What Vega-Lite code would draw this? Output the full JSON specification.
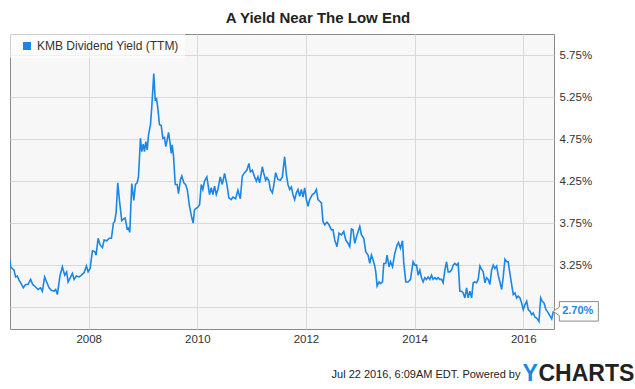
{
  "$schema": "https://vega.github.io/schema/vega-lite/v6.json",
  "autosize": {"type": "none"},
  "padding": {"left": 10, "top": 34, "right": 81, "bottom": 60},
  "width": 544,
  "height": 295,
  "background": "white",
  "title": {
    "text": "A Yield Near The Low End",
    "anchor": "middle",
    "frame": "group",
    "dx": 36,
    "offset": -4,
    "baseline": "alphabetic",
    "font": "Liberation Sans",
    "fontSize": 15,
    "fontWeight": "bold",
    "color": "#222222"
  },
  "config": {
    "view": {"fill": "#f7f7f7", "stroke": "#8a8a8a", "strokeWidth": 1},
    "font": "Liberation Sans"
  },
  "data": {
    "values": [
      {"year":2006.551,"yield":3.31},{"year":2006.562,"yield":3.23},{"year":2006.625,"yield":3.19},{"year":2006.654,"yield":3.11},
      {"year":2006.686,"yield":3.12},{"year":2006.717,"yield":3.07},{"year":2006.747,"yield":3.04},{"year":2006.796,"yield":2.98},
      {"year":2006.839,"yield":3.02},{"year":2006.883,"yield":3.02},{"year":2006.931,"yield":3.08},{"year":2006.968,"yield":3.02},
      {"year":2007.023,"yield":2.99},{"year":2007.067,"yield":2.96},{"year":2007.115,"yield":2.98},{"year":2007.147,"yield":2.94},
      {"year":2007.189,"yield":3.11},{"year":2007.226,"yield":3.05},{"year":2007.270,"yield":2.98},{"year":2007.312,"yield":2.95},
      {"year":2007.362,"yield":2.94},{"year":2007.392,"yield":2.96},{"year":2007.423,"yield":2.90},{"year":2007.473,"yield":3.13},
      {"year":2007.515,"yield":3.23},{"year":2007.558,"yield":3.13},{"year":2007.594,"yield":3.17},{"year":2007.620,"yield":3.05},
      {"year":2007.668,"yield":3.11},{"year":2007.700,"yield":3.15},{"year":2007.731,"yield":3.08},{"year":2007.773,"yield":3.12},
      {"year":2007.823,"yield":3.11},{"year":2007.865,"yield":3.13},{"year":2007.915,"yield":3.16},{"year":2007.958,"yield":3.24},
      {"year":2007.989,"yield":3.17},{"year":2008.026,"yield":3.21},{"year":2008.068,"yield":3.42},{"year":2008.111,"yield":3.41},
      {"year":2008.136,"yield":3.37},{"year":2008.173,"yield":3.57},{"year":2008.210,"yield":3.49},{"year":2008.253,"yield":3.46},
      {"year":2008.284,"yield":3.55},{"year":2008.332,"yield":3.54},{"year":2008.376,"yield":3.57},{"year":2008.418,"yield":3.57},
      {"year":2008.455,"yield":3.75},{"year":2008.479,"yield":3.77},{"year":2008.505,"yield":3.88},{"year":2008.535,"yield":4.23},
      {"year":2008.566,"yield":4.02},{"year":2008.608,"yield":3.78},{"year":2008.645,"yield":3.80},{"year":2008.671,"yield":3.81},
      {"year":2008.708,"yield":3.68},{"year":2008.732,"yield":3.69},{"year":2008.756,"yield":3.64},{"year":2008.793,"yield":4.22},
      {"year":2008.830,"yield":4.02},{"year":2008.861,"yield":4.21},{"year":2008.892,"yield":4.23},{"year":2008.916,"yield":4.30},
      {"year":2008.953,"yield":4.76},{"year":2008.977,"yield":4.60},{"year":2009.003,"yield":4.69},{"year":2009.027,"yield":4.60},
      {"year":2009.051,"yield":4.72},{"year":2009.077,"yield":4.62},{"year":2009.100,"yield":4.79},{"year":2009.137,"yield":4.92},
      {"year":2009.161,"yield":5.13},{"year":2009.198,"yield":5.53},{"year":2009.224,"yield":5.22},{"year":2009.248,"yield":5.23},
      {"year":2009.272,"yield":5.12},{"year":2009.303,"yield":4.92},{"year":2009.335,"yield":4.91},{"year":2009.364,"yield":4.76},
      {"year":2009.395,"yield":4.77},{"year":2009.419,"yield":4.66},{"year":2009.445,"yield":4.74},{"year":2009.469,"yield":4.83},
      {"year":2009.493,"yield":4.73},{"year":2009.519,"yield":4.58},{"year":2009.537,"yield":4.68},{"year":2009.561,"yield":4.55},
      {"year":2009.593,"yield":4.21},{"year":2009.629,"yield":4.21},{"year":2009.653,"yield":4.10},{"year":2009.690,"yield":4.27},
      {"year":2009.714,"yield":4.31},{"year":2009.751,"yield":4.23},{"year":2009.782,"yield":4.21},{"year":2009.814,"yield":4.15},
      {"year":2009.856,"yield":3.95},{"year":2009.899,"yield":3.81},{"year":2009.924,"yield":3.75},{"year":2009.948,"yield":3.91},
      {"year":2010.009,"yield":3.94},{"year":2010.041,"yield":3.97},{"year":2010.072,"yield":4.21},{"year":2010.101,"yield":4.15},
      {"year":2010.133,"yield":4.25},{"year":2010.175,"yield":4.30},{"year":2010.225,"yield":4.09},{"year":2010.256,"yield":4.17},
      {"year":2010.286,"yield":4.09},{"year":2010.317,"yield":4.19},{"year":2010.348,"yield":4.09},{"year":2010.378,"yield":4.15},
      {"year":2010.422,"yield":4.30},{"year":2010.459,"yield":4.21},{"year":2010.501,"yield":4.34},{"year":2010.544,"yield":4.21},
      {"year":2010.581,"yield":4.05},{"year":2010.625,"yield":4.03},{"year":2010.654,"yield":4.06},{"year":2010.704,"yield":4.04},
      {"year":2010.747,"yield":4.14},{"year":2010.791,"yield":4.04},{"year":2010.828,"yield":4.31},{"year":2010.870,"yield":4.35},
      {"year":2010.912,"yield":4.38},{"year":2010.949,"yield":4.46},{"year":2010.975,"yield":4.36},{"year":2011.012,"yield":4.38},
      {"year":2011.054,"yield":4.30},{"year":2011.086,"yield":4.25},{"year":2011.115,"yield":4.30},{"year":2011.147,"yield":4.23},
      {"year":2011.196,"yield":4.42},{"year":2011.220,"yield":4.35},{"year":2011.257,"yield":4.26},{"year":2011.281,"yield":4.29},
      {"year":2011.318,"yield":4.25},{"year":2011.344,"yield":4.15},{"year":2011.381,"yield":4.11},{"year":2011.405,"yield":4.19},
      {"year":2011.441,"yield":4.35},{"year":2011.484,"yield":4.27},{"year":2011.528,"yield":4.26},{"year":2011.565,"yield":4.30},
      {"year":2011.607,"yield":4.54},{"year":2011.639,"yield":4.33},{"year":2011.668,"yield":4.21},{"year":2011.700,"yield":4.15},
      {"year":2011.731,"yield":4.18},{"year":2011.760,"yield":4.09},{"year":2011.792,"yield":4.03},{"year":2011.823,"yield":4.11},
      {"year":2011.853,"yield":4.15},{"year":2011.884,"yield":4.07},{"year":2011.915,"yield":4.15},{"year":2011.945,"yield":4.06},
      {"year":2011.976,"yield":4.17},{"year":2012.007,"yield":4.03},{"year":2012.037,"yield":3.95},{"year":2012.068,"yield":4.03},
      {"year":2012.118,"yield":4.09},{"year":2012.160,"yield":4.11},{"year":2012.192,"yield":4.15},{"year":2012.221,"yield":4.03},
      {"year":2012.253,"yield":4.01},{"year":2012.284,"yield":3.99},{"year":2012.313,"yield":3.77},{"year":2012.345,"yield":3.73},
      {"year":2012.387,"yield":3.76},{"year":2012.424,"yield":3.73},{"year":2012.468,"yield":3.67},{"year":2012.498,"yield":3.67},
      {"year":2012.529,"yield":3.55},{"year":2012.571,"yield":3.47},{"year":2012.608,"yield":3.63},{"year":2012.653,"yield":3.61},
      {"year":2012.695,"yield":3.65},{"year":2012.732,"yield":3.55},{"year":2012.774,"yield":3.51},{"year":2012.806,"yield":3.47},
      {"year":2012.837,"yield":3.68},{"year":2012.866,"yield":3.67},{"year":2012.898,"yield":3.51},{"year":2012.940,"yield":3.61},
      {"year":2012.990,"yield":3.71},{"year":2013.021,"yield":3.61},{"year":2013.064,"yield":3.57},{"year":2013.100,"yield":3.41},
      {"year":2013.143,"yield":3.37},{"year":2013.174,"yield":3.27},{"year":2013.205,"yield":3.37},{"year":2013.235,"yield":3.31},
      {"year":2013.266,"yield":3.24},{"year":2013.285,"yield":3.17},{"year":2013.309,"yield":3.00},{"year":2013.346,"yield":3.05},
      {"year":2013.371,"yield":3.03},{"year":2013.408,"yield":3.05},{"year":2013.432,"yield":3.27},{"year":2013.469,"yield":3.27},
      {"year":2013.493,"yield":3.37},{"year":2013.530,"yield":3.23},{"year":2013.556,"yield":3.29},{"year":2013.593,"yield":3.23},
      {"year":2013.635,"yield":3.39},{"year":2013.677,"yield":3.49},{"year":2013.703,"yield":3.52},{"year":2013.740,"yield":3.45},
      {"year":2013.777,"yield":3.54},{"year":2013.801,"yield":3.27},{"year":2013.838,"yield":3.05},{"year":2013.880,"yield":3.05},
      {"year":2013.924,"yield":3.08},{"year":2013.972,"yield":3.29},{"year":2014.004,"yield":3.25},{"year":2014.035,"yield":3.25},
      {"year":2014.065,"yield":3.13},{"year":2014.096,"yield":3.19},{"year":2014.127,"yield":3.10},{"year":2014.157,"yield":3.05},
      {"year":2014.188,"yield":3.10},{"year":2014.219,"yield":3.08},{"year":2014.249,"yield":3.11},{"year":2014.280,"yield":3.08},
      {"year":2014.312,"yield":3.13},{"year":2014.341,"yield":3.08},{"year":2014.372,"yield":3.10},{"year":2014.404,"yield":3.08},
      {"year":2014.433,"yield":3.10},{"year":2014.465,"yield":3.08},{"year":2014.496,"yield":3.08},{"year":2014.525,"yield":3.04},
      {"year":2014.557,"yield":3.19},{"year":2014.588,"yield":3.29},{"year":2014.617,"yield":3.17},{"year":2014.649,"yield":3.17},
      {"year":2014.680,"yield":3.19},{"year":2014.710,"yield":3.25},{"year":2014.741,"yield":3.27},{"year":2014.772,"yield":3.25},
      {"year":2014.802,"yield":3.27},{"year":2014.833,"yield":2.94},{"year":2014.864,"yield":2.94},{"year":2014.894,"yield":2.92},
      {"year":2014.925,"yield":2.86},{"year":2014.957,"yield":2.98},{"year":2014.986,"yield":2.86},{"year":2015.017,"yield":2.94},
      {"year":2015.049,"yield":2.86},{"year":2015.078,"yield":3.04},{"year":2015.110,"yield":3.05},{"year":2015.141,"yield":3.04},
      {"year":2015.170,"yield":3.08},{"year":2015.202,"yield":3.24},{"year":2015.233,"yield":3.20},{"year":2015.263,"yield":3.17},
      {"year":2015.294,"yield":3.04},{"year":2015.325,"yield":3.10},{"year":2015.355,"yield":3.08},{"year":2015.386,"yield":3.02},
      {"year":2015.417,"yield":3.19},{"year":2015.447,"yield":3.25},{"year":2015.478,"yield":3.21},{"year":2015.510,"yield":3.24},
      {"year":2015.539,"yield":3.13},{"year":2015.570,"yield":3.05},{"year":2015.602,"yield":2.96},{"year":2015.631,"yield":3.11},
      {"year":2015.663,"yield":3.32},{"year":2015.694,"yield":3.29},{"year":2015.723,"yield":3.29},{"year":2015.755,"yield":3.15},
      {"year":2015.786,"yield":3.02},{"year":2015.816,"yield":2.90},{"year":2015.847,"yield":2.92},{"year":2015.878,"yield":2.86},
      {"year":2015.908,"yield":2.88},{"year":2015.939,"yield":2.86},{"year":2015.970,"yield":2.80},{"year":2016.000,"yield":2.72},
      {"year":2016.031,"yield":2.78},{"year":2016.063,"yield":2.82},{"year":2016.092,"yield":2.72},{"year":2016.124,"yield":2.70},
      {"year":2016.155,"yield":2.66},{"year":2016.184,"yield":2.68},{"year":2016.216,"yield":2.63},{"year":2016.247,"yield":2.62},
      {"year":2016.289,"yield":2.58},{"year":2016.321,"yield":2.86},{"year":2016.350,"yield":2.82},{"year":2016.382,"yield":2.80},
      {"year":2016.418,"yield":2.72},{"year":2016.442,"yield":2.70},{"year":2016.479,"yield":2.66},{"year":2016.524,"yield":2.61},
      {"year":2016.553,"yield":2.70}
    ]
  },
  "resolve": {"axis": {"y": "independent"}},
  "layer": [
    {
      "mark": {"type": "line", "strokeWidth": 1.6, "clip": true},
      "encoding": {
        "x": {
          "field": "year",
          "type": "quantitative",
          "scale": {"domain": [2006.551, 2016.566], "nice": false, "zero": false},
          "axis": {
            "values": [2008, 2010, 2012, 2014, 2016],
            "format": "d",
            "grid": true,
            "gridColor": "#d9d9d9",
            "ticks": false,
            "domain": false,
            "labelFontSize": 11.5,
            "labelColor": "#333333",
            "labelPadding": 4,
            "title": "Jul 22 2016, 6:09AM EDT.  Powered by",
            "titleX": 510,
            "titleY": 48.5,
            "titleAlign": "right",
            "titleAnchor": null,
            "titleBaseline": "alphabetic",
            "titleFontSize": 11,
            "titleFontWeight": "normal",
            "titleColor": "#222222"
          }
        },
        "y": {
          "field": "yield",
          "type": "quantitative",
          "scale": {"domain": [2.49, 6.0], "nice": false, "zero": false},
          "axis": {
            "orient": "right",
            "values": [2.75, 3.25, 3.75, 4.25, 4.75, 5.25, 5.75],
            "labelExpr": "datum.value < 3 ? '' : format(datum.value, '.2f') + '%'",
            "grid": true,
            "gridColor": "#d9d9d9",
            "ticks": false,
            "domain": false,
            "labelFontSize": 11.5,
            "labelColor": "#333333",
            "labelPadding": 5,
            "title": "CHARTS",
            "titleAngle": 0,
            "titleX": -16,
            "titleY": 346,
            "titleAlign": "left",
            "titleAnchor": null,
            "titleBaseline": "alphabetic",
            "titleFontSize": 23,
            "titleFontWeight": "bold",
            "titleColor": "#222222"
          }
        },
        "color": {
          "datum": "KMB Dividend Yield (TTM)",
          "type": "nominal",
          "scale": {"range": ["#1a87e6"]},
          "legend": {
            "title": null,
            "orient": "none",
            "legendX": 0,
            "legendY": 0,
            "padding": 6,
            "fillColor": "rgba(255,255,255,0.6)",
            "symbolType": "square",
            "symbolSize": 64,
            "symbolFillColor": "#1a87e6",
            "symbolStrokeWidth": 0,
            "symbolOffset": 5,
            "labelFontSize": 12,
            "labelColor": "#333333",
            "labelOffset": 4
          }
        }
      }
    },
    {
      "transform": [
        {"filter": "datum.year > 2016.55"},
        {"calculate": "format(datum.yield, '.2f') + '%'", "as": "label"}
      ],
      "encoding": {
        "x": {"field": "year", "type": "quantitative"},
        "y": {
          "field": "yield",
          "type": "quantitative",
          "axis": {
            "orient": "left",
            "labels": false,
            "ticks": false,
            "domain": false,
            "grid": false,
            "title": "Y",
            "titleAngle": 0,
            "titleX": 512,
            "titleY": 346,
            "titleAlign": "left",
            "titleAnchor": null,
            "titleBaseline": "alphabetic",
            "titleFontSize": 23,
            "titleFontWeight": "bold",
            "titleColor": "#1a87e6"
          }
        }
      },
      "layer": [
        {
          "mark": {
            "type": "point",
            "shape": "M0,0L0.31,-0.22L0.31,-0.5L2.31,-0.5L2.31,0.5L0.31,0.5L0.31,0.22Z",
            "size": 1521,
            "filled": true,
            "fill": "white",
            "stroke": "#8a8a8a",
            "strokeWidth": 1,
            "opacity": 1
          }
        },
        {
          "mark": {
            "type": "text",
            "dx": 24.5,
            "fontSize": 11,
            "fontWeight": "bold",
            "color": "#1a87e6",
            "align": "center",
            "baseline": "middle"
          },
          "encoding": {
            "text": {"field": "label"}
          }
        }
      ]
    }
  ]
}
